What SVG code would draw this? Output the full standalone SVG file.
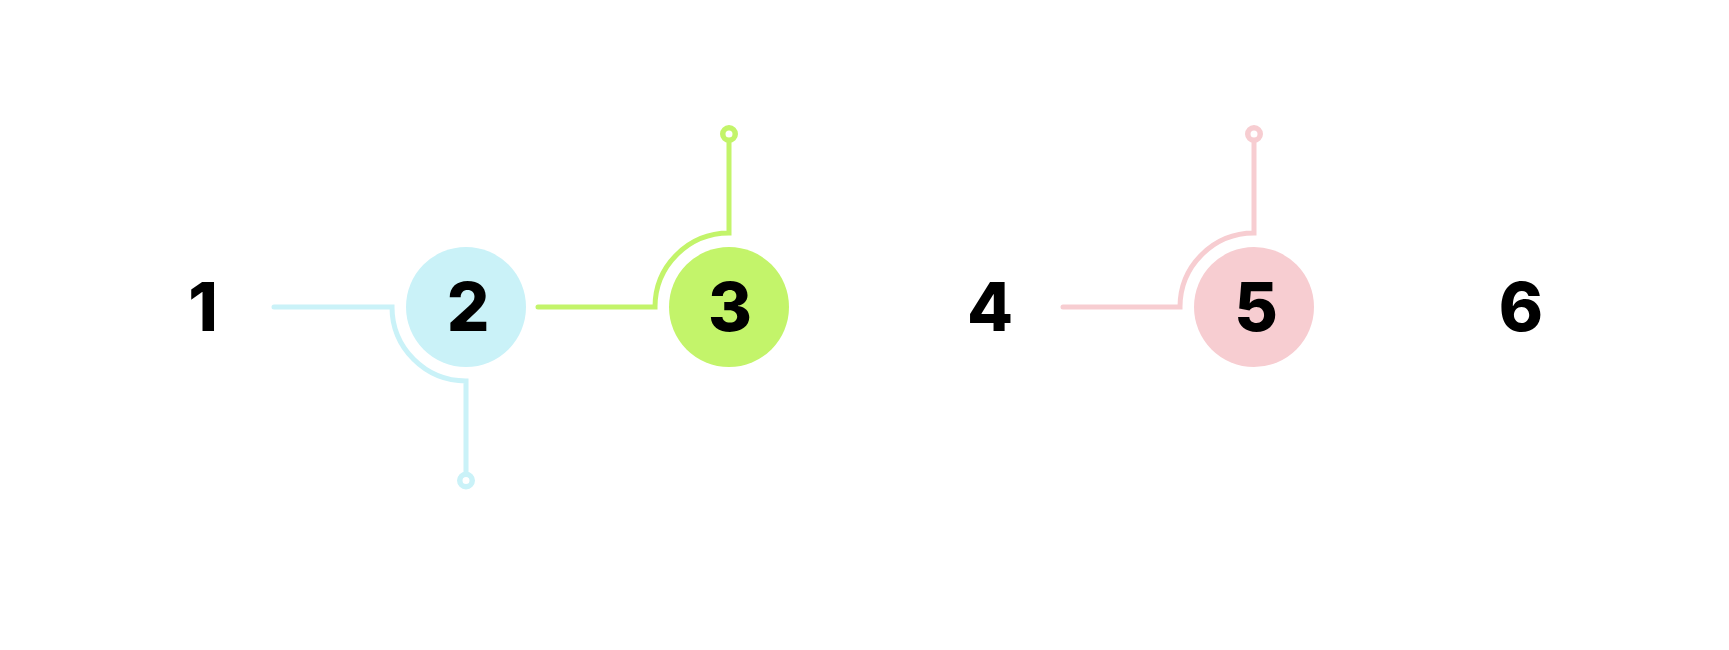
<svg xmlns="http://www.w3.org/2000/svg" width="1729" height="650" viewBox="0 0 1729 650">
  <style>
    .lbl { font-family: Inter, "Liberation Sans", Arial, sans-serif; font-weight: 800; font-size: 67px; fill: #000; text-anchor: middle; }
    .conn { fill: none; stroke-width: 5; stroke-linecap: round; stroke-linejoin: miter; }
    .ring { fill: #fff; stroke-width: 5.5; }
    .blue { stroke: #CAF2F8; }
    .green { stroke: #C3F46A; }
    .pink { stroke: #F7CDD1; }
  </style>
  <rect width="1729" height="650" fill="#fff"/>
  <g id="connectors">
    <path class="conn blue" d="M274 307 H392 A74 74 0 0 0 466 381 V474"/>
    <circle class="ring blue" cx="466" cy="480.5" r="6.25"/>
    <path class="conn green" d="M538 307 H655 A74 74 0 0 1 729 233 V140"/>
    <circle class="ring green" cx="729" cy="134" r="6.25"/>
    <path class="conn pink" d="M1063 307 H1180 A74 74 0 0 1 1254 233 V140"/>
    <circle class="ring pink" cx="1254" cy="134" r="6.25"/>
  </g>
  <g id="node1">
    <text class="lbl" x="203" y="331">1</text>
  </g>
  <g id="node2">
    <circle cx="466" cy="307" r="60" fill="#CAF2F8"/>
    <text class="lbl" x="468" y="331">2</text>
  </g>
  <g id="node3">
    <circle cx="729" cy="307" r="60" fill="#C3F46A"/>
    <text class="lbl" x="730" y="331">3</text>
  </g>
  <g id="node4">
    <text class="lbl" x="990" y="331">4</text>
  </g>
  <g id="node5">
    <circle cx="1254" cy="307" r="60" fill="#F7CDD1"/>
    <text class="lbl" x="1256" y="331">5</text>
  </g>
  <g id="node6">
    <text class="lbl" x="1521" y="331">6</text>
  </g>
</svg>
